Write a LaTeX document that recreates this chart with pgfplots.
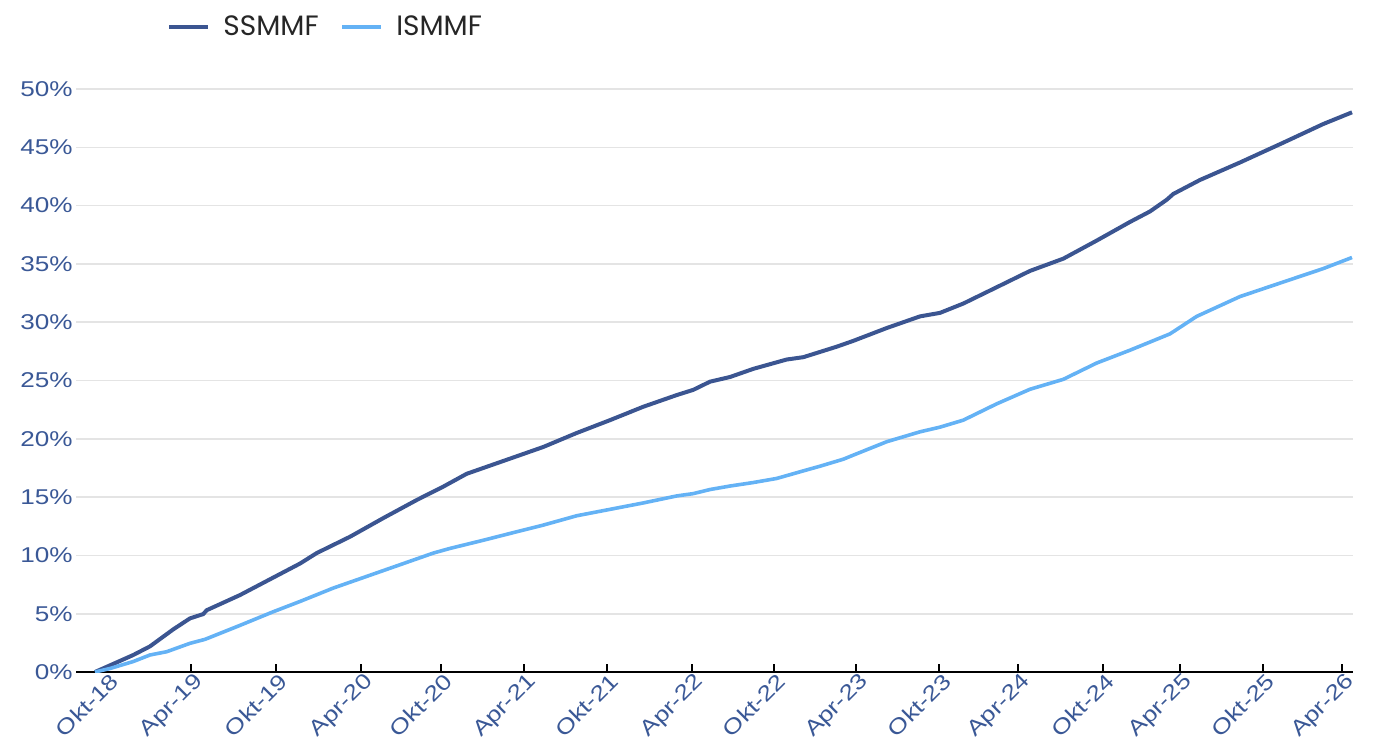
\documentclass[border=0pt]{standalone}
\usepackage{fontspec}
\usepackage{pgfplots}
\pgfplotsset{compat=1.18}
\newfontfamily\tickfont[FakeStretch=1.22]{Liberation Sans}
\newfontfamily\legfont{Poppins}
\definecolor{darkline}{HTML}{3B5591}
\definecolor{lightline}{HTML}{64B2F5}
\definecolor{ticktext}{HTML}{3A5896}
\definecolor{gridc}{HTML}{E4E4E4}

\pgfplotstableread{
x y
95 0
133.3 1.46
150 2.2
173.3 3.66
190 4.6
203.3 4.97
206.7 5.3
240 6.6
273.3 8.1
300 9.3
316.7 10.2
350 11.6
383.3 13.2
416.7 14.75
443.3 15.9
466.7 17.0
486.7 17.6
520 18.6
543.3 19.3
576.7 20.5
610 21.6
643.3 22.75
676.7 23.75
693.3 24.2
710 24.9
730 25.3
753.3 26.0
786.7 26.8
803.3 27.0
820 27.45
836.7 27.9
853.3 28.4
886.7 29.5
920 30.5
940 30.8
963.3 31.6
996.7 33.0
1030 34.4
1063.3 35.45
1096.7 37.0
1130 38.6
1150 39.5
1166.7 40.5
1173.3 41.0
1200 42.2
1240 43.7
1283.3 45.4
1323.3 47.0
1352 48.0
}\ssmmf

\pgfplotstableread{
x y
95 0
110 0.3
133.3 0.9
150 1.46
166.7 1.74
190 2.46
205 2.8
240 4.0
273.3 5.17
300 6.05
333.3 7.2
366.7 8.2
400 9.2
433.3 10.2
450 10.6
483.3 11.3
520 12.1
543.3 12.6
576.7 13.4
610 13.95
643.3 14.5
676.7 15.1
693.3 15.3
710 15.65
730 15.95
753.3 16.25
776.7 16.6
803.3 17.25
820 17.65
843.3 18.25
853.3 18.6
886.7 19.75
920 20.6
940 21.0
963.3 21.6
996.7 23.0
1030 24.25
1063.3 25.1
1096.7 26.5
1130 27.6
1150 28.3
1170 29.0
1196.7 30.5
1240 32.2
1283.3 33.45
1323.3 34.6
1352 35.55
}\ismmf

\begin{document}
\begin{tikzpicture}
\path[use as bounding box] (0pt,0pt) rectangle (687pt,370pt);
\begin{axis}[
  at={(38pt,34pt)}, anchor=south west,
  scale only axis, width=638.5pt, height=291.5pt,
  xmin=76, xmax=1353, ymin=0, ymax=50,
  axis lines*=left,
  y axis line style={draw=none},
  x axis line style={black, line width=1pt},
  ytick={0,5,...,50},
  yticklabel={\pgfmathprintnumber{\tick}\%},
  ytick style={draw=none},
  ymajorgrids, grid style={gridc, line width=0.8pt},
  xtick={190.7,276,360.7,440.9,523.9,606.5,691.5,774,855.9,939.3,1018.3,1102.7,1179.7,1262.7,1342},
  xticklabels={Apr-19,Okt-19,Apr-20,Okt-20,Apr-21,Okt-21,Apr-22,Okt-22,Apr-23,Okt-23,Apr-24,Okt-24,Apr-25,Okt-25,Apr-26},
  extra x ticks={107},
  extra x tick labels={Okt-18},
  extra x tick style={major tick length=0pt, grid=none},
  tick align=inside, major tick length=4pt,
  xtick style={black, line width=1pt},
  /pgf/number format/assume math mode=true,
  tick label style={font=\tickfont\fontsize{10.7pt}{12pt}\selectfont, text=ticktext},
  xticklabel style={rotate=45, anchor=north east, inner sep=0pt, xshift=1pt, yshift=-0.5pt},
  yticklabel style={anchor=east, inner sep=0pt, xshift=-1.5pt},
  legend columns=2,
  legend style={draw=none, fill=none, inner sep=0pt, at={(0.0713,1.1063)}, anchor=west,
    font=\legfont\fontsize{14pt}{16pt}\selectfont, text=black!85,
    nodes={inner sep=0pt}},
  /tikz/every odd column/.append style={column sep=6.5pt},
  /tikz/every even column/.append style={column sep=11pt},
  legend image code/.code={\draw[#1] (0pt,0pt) -- (19.5pt,0pt);},
]
\addplot[darkline, line width=2pt] table[x=x,y=y] {\ssmmf};
\addlegendentry{SSMMF}
\addplot[lightline, line width=1.8pt] table[x=x,y=y] {\ismmf};
\addlegendentry{ISMMF}
\end{axis}
\end{tikzpicture}
\end{document}
